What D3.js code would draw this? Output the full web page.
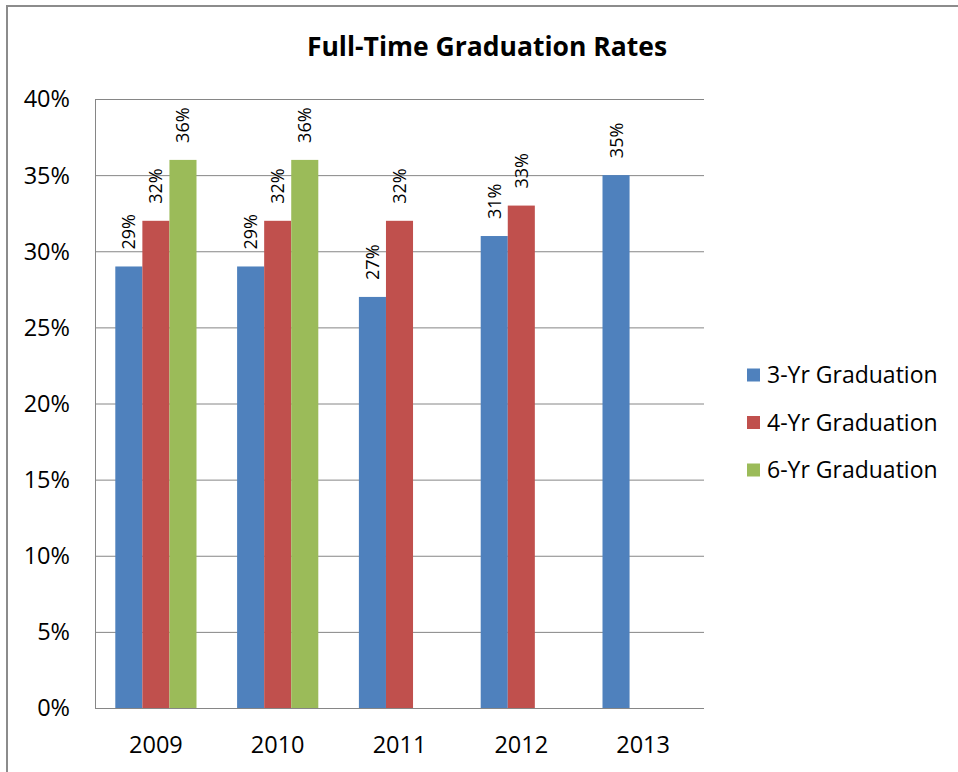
<!DOCTYPE html>
<html>
<head>
<meta charset="utf-8">
<script src="https://cdn.jsdelivr.net/npm/d3@7"></script>
<style>
  body { margin: 0; background: #fff; }
  svg { font-family: "Open Sans", Lato, sans-serif; }
</style>
</head>
<body>
<div id="chart"></div>
<script>
// chart values
const years = ['2009', '2010', '2011', '2012', '2013'];
const seriesNames = ['3-Yr Graduation', '4-Yr Graduation', '6-Yr Graduation'];
const threeYr = [29, 29, 27, 31, 35];
const fourYr = [32, 32, 32, 33, null];
const sixYr = [36, 36, null, null, null];
const yTicks = [0, 5, 10, 15, 20, 25, 30, 35, 40];
const colors = ['#4F81BD', '#C0504D', '#9BBB59'];

const seriesValues = [threeYr, fourYr, sixYr];

const W = 958, H = 772;
const plot = {left: 95, top: 99, right: 704, bottom: 708};

const svg = d3.select('#chart')
    .append('svg')
        .attr('width', W)
        .attr('height', H);

// outer chart frame (runs off the right/bottom edge)
svg.append('rect')
    .attr('x', 7).attr('y', 6)
    .attr('width', W + 10).attr('height', H + 10)
    .attr('fill', '#fff')
    .attr('stroke', '#8c8c8c')
    .attr('stroke-width', 2);

svg.append('text')
    .attr('x', 487).attr('y', 56)
    .attr('text-anchor', 'middle')
    .attr('font-size', 26.5)
    .attr('font-weight', 'bold')
    .attr('fill', '#000')
    .text('Full-Time Graduation Rates');

const x = d3.scaleBand()
    .domain(years)
    .range([plot.left, plot.right])
    .paddingInner(0)
    .paddingOuter(0);

const y = d3.scaleLinear()
    .domain([0, 40])
    .range([plot.bottom, plot.top]);

// gridlines
svg.append('g')
    .selectAll('line')
    .data(yTicks)
    .join('line')
        .attr('x1', plot.left).attr('x2', plot.right)
        .attr('y1', d => y(d) + 0.5).attr('y2', d => y(d) + 0.5)
        .attr('stroke', '#868686')
        .attr('stroke-width', 1);

// left axis line
svg.append('line')
    .attr('x1', plot.left + 0.5).attr('x2', plot.left + 0.5)
    .attr('y1', plot.top).attr('y2', plot.bottom)
    .attr('stroke', '#868686');

// y tick labels
svg.append('g')
    .selectAll('text')
    .data(yTicks)
    .join('text')
        .attr('x', 70)
        .attr('y', d => y(d))
        .attr('dy', '0.36em')
        .attr('text-anchor', 'end')
        .attr('font-size', 23.5)
        .attr('fill', '#000')
        .text(d => d + '%');

// x labels
svg.append('g')
    .selectAll('text')
    .data(years)
    .join('text')
        .attr('x', d => x(d) + x.bandwidth() / 2)
        .attr('y', 745)
        .attr('dy', '0.36em')
        .attr('text-anchor', 'middle')
        .attr('font-size', 23.5)
        .attr('fill', '#000')
        .text(d => d);

// gap width 150% like excel -> group occupies 3/(3+1.5) of band
const groupW = x.bandwidth() * 3 / 4.5;
const x1 = d3.scaleBand()
    .domain(d3.range(seriesNames.length))
    .range([0, groupW]);
const groupOff = (x.bandwidth() - groupW) / 2;

const bars = [];
seriesValues.forEach((vals, s) => {
    vals.forEach((v, i) => {
        if (v != null) bars.push({year: years[i], s: s, v: v});
    });
});

svg.append('g')
    .selectAll('rect')
    .data(bars)
    .join('rect')
        .attr('x', d => x(d.year) + groupOff + x1(d.s))
        .attr('y', d => y(d.v))
        .attr('width', x1.bandwidth())
        .attr('height', d => y(0) - y(d.v))
        .attr('fill', d => colors[d.s]);

// rotated value labels above bars
svg.append('g')
    .selectAll('text')
    .data(bars)
    .join('text')
        .attr('transform', d => {
            const cx = x(d.year) + groupOff + x1(d.s) + x1.bandwidth() / 2;
            return `translate(${cx},${y(d.v) - 17}) rotate(-90)`;
        })
        .attr('dy', '0.36em')
        .attr('text-anchor', 'start')
        .attr('font-size', 18)
        .attr('fill', '#000')
        .text(d => d.v + '%');

// legend
const legend = svg.append('g')
    .selectAll('g')
    .data(seriesNames)
    .join('g')
        .attr('transform', (d, i) => `translate(747,${375 + i * 47.5})`);

legend.append('rect')
    .attr('x', 0).attr('y', -6.5)
    .attr('width', 13).attr('height', 13)
    .attr('fill', (d, i) => colors[i]);

legend.append('text')
    .attr('x', 20)
    .attr('y', 0)
    .attr('dy', '0.36em')
    .attr('font-size', 23)
    .attr('fill', '#000')
    .text(d => d);
</script>
</body>
</html>
